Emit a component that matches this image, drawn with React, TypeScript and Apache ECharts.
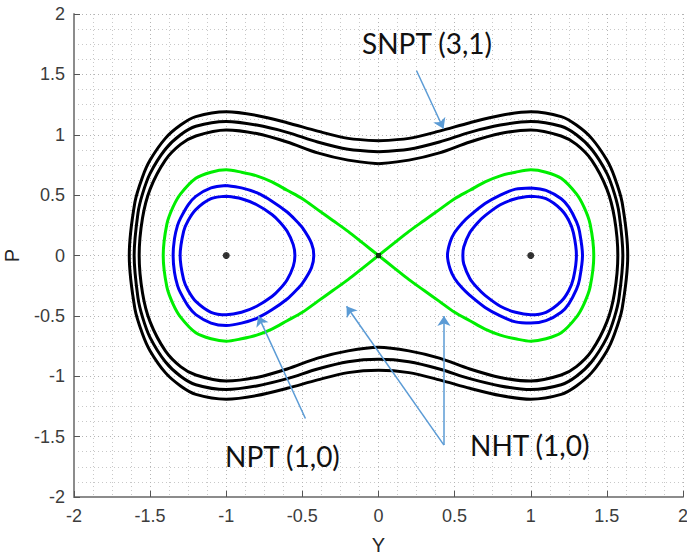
import React, { useEffect, useRef } from "react";
import * as echarts from "echarts";

type Pt = [number, number];

// Axis ticks (Y horizontal, P vertical)
const X_TICKS = [-2, -1.5, -1, -0.5, 0, 0.5, 1, 1.5, 2];
const Y_TICKS = [-2, -1.5, -1, -0.5, 0, 0.5, 1, 1.5, 2];

// Outer trajectories (SNPT), traced clockwise from the top centre
const BLACK_OUTER: Pt[] = [
  [0, 0.95], [0.2, 0.97], [0.4, 1.03], [0.6, 1.1], [0.8, 1.16], [1.0, 1.19], [1.2, 1.15], [1.3, 1.08],
  [1.4, 0.97], [1.5, 0.79], [1.55, 0.65], [1.6, 0.44], [1.637, 0],
  [1.6, -0.44], [1.55, -0.65], [1.5, -0.79], [1.4, -0.97], [1.3, -1.08], [1.2, -1.15], [1.0, -1.19],
  [0.8, -1.16], [0.6, -1.1], [0.4, -1.03], [0.2, -0.97], [0, -0.95],
  [-0.2, -0.97], [-0.4, -1.03], [-0.6, -1.1], [-0.8, -1.16], [-1.0, -1.19], [-1.2, -1.15], [-1.3, -1.08],
  [-1.4, -0.97], [-1.5, -0.79], [-1.55, -0.65], [-1.6, -0.44], [-1.637, 0],
  [-1.6, 0.44], [-1.55, 0.65], [-1.5, 0.79], [-1.4, 0.97], [-1.3, 1.08], [-1.2, 1.15], [-1.0, 1.19],
  [-0.8, 1.16], [-0.6, 1.1], [-0.4, 1.03], [-0.2, 0.97], [0, 0.95],
];

const BLACK_MIDDLE: Pt[] = [
  [0, 0.86], [0.2, 0.88], [0.4, 0.94], [0.6, 1.02], [0.8, 1.08], [1.0, 1.11], [1.2, 1.07], [1.3, 1.0],
  [1.4, 0.88], [1.5, 0.68], [1.55, 0.51], [1.58, 0.35], [1.605, 0],
  [1.58, -0.35], [1.55, -0.51], [1.5, -0.68], [1.4, -0.88], [1.3, -1.0], [1.2, -1.07], [1.0, -1.11],
  [0.8, -1.08], [0.6, -1.02], [0.4, -0.94], [0.2, -0.88], [0, -0.86],
  [-0.2, -0.88], [-0.4, -0.94], [-0.6, -1.02], [-0.8, -1.08], [-1.0, -1.11], [-1.2, -1.07], [-1.3, -1.0],
  [-1.4, -0.88], [-1.5, -0.68], [-1.55, -0.51], [-1.58, -0.35], [-1.605, 0],
  [-1.58, 0.35], [-1.55, 0.51], [-1.5, 0.68], [-1.4, 0.88], [-1.3, 1.0], [-1.2, 1.07], [-1.0, 1.11],
  [-0.8, 1.08], [-0.6, 1.02], [-0.4, 0.94], [-0.2, 0.88], [0, 0.86],
];

const BLACK_INNER: Pt[] = [
  [0, 0.76], [0.2, 0.79], [0.4, 0.85], [0.6, 0.94], [0.8, 1.01], [1.0, 1.04], [1.2, 0.99], [1.3, 0.92],
  [1.4, 0.79], [1.5, 0.55], [1.55, 0.31], [1.572, 0],
  [1.55, -0.31], [1.5, -0.55], [1.4, -0.79], [1.3, -0.92], [1.2, -0.99], [1.0, -1.04],
  [0.8, -1.01], [0.6, -0.94], [0.4, -0.85], [0.2, -0.79], [0, -0.76],
  [-0.2, -0.79], [-0.4, -0.85], [-0.6, -0.94], [-0.8, -1.01], [-1.0, -1.04], [-1.2, -0.99], [-1.3, -0.92],
  [-1.4, -0.79], [-1.5, -0.55], [-1.55, -0.31], [-1.572, 0],
  [-1.55, 0.31], [-1.5, 0.55], [-1.4, 0.79], [-1.3, 0.92], [-1.2, 0.99], [-1.0, 1.04],
  [-0.8, 1.01], [-0.6, 0.94], [-0.4, 0.85], [-0.2, 0.79], [0, 0.76],
];

// Separatrix (NHT) through the saddle at the origin
const SEPARATRIX: Pt[] = [
  [0, 0], [0.1, 0.1], [0.2, 0.2], [0.3, 0.29], [0.4, 0.38], [0.5, 0.47], [0.6, 0.54], [0.7, 0.61],
  [0.8, 0.66], [0.9, 0.69], [1.0, 0.71], [1.1, 0.69], [1.2, 0.64], [1.3, 0.51], [1.35, 0.4], [1.39, 0.26],
  [1.414, 0],
  [1.39, -0.26], [1.35, -0.4], [1.3, -0.51], [1.2, -0.64], [1.1, -0.69], [1.0, -0.71], [0.9, -0.69],
  [0.8, -0.66], [0.7, -0.61], [0.6, -0.54], [0.5, -0.47], [0.4, -0.38], [0.3, -0.29], [0.2, -0.2],
  [0.1, -0.1], [0, 0],
  [-0.1, 0.1], [-0.2, 0.2], [-0.3, 0.29], [-0.4, 0.38], [-0.5, 0.47], [-0.6, 0.54], [-0.7, 0.61],
  [-0.8, 0.66], [-0.9, 0.69], [-1.0, 0.71], [-1.1, 0.69], [-1.2, 0.64], [-1.3, 0.51], [-1.35, 0.4],
  [-1.39, 0.26], [-1.414, 0],
  [-1.39, -0.26], [-1.35, -0.4], [-1.3, -0.51], [-1.2, -0.64], [-1.1, -0.69], [-1.0, -0.71], [-0.9, -0.69],
  [-0.8, -0.66], [-0.7, -0.61], [-0.6, -0.54], [-0.5, -0.47], [-0.4, -0.38], [-0.3, -0.29], [-0.2, -0.2],
  [-0.1, -0.1], [0, 0],
];

// Periodic orbits (NPT) around the centres
const BLUE_RIGHT_OUTER: Pt[] = [
  [1.0, 0.56], [1.1, 0.54], [1.2, 0.47], [1.25, 0.4], [1.3, 0.28], [1.32, 0.2], [1.34, 0],
  [1.32, -0.2], [1.3, -0.28], [1.25, -0.4], [1.2, -0.47], [1.1, -0.54], [1.0, -0.56],
  [0.9, -0.55], [0.8, -0.5], [0.7, -0.43], [0.6, -0.33], [0.55, -0.27], [0.5, -0.19], [0.47, -0.11], [0.453, 0],
  [0.47, 0.11], [0.5, 0.19], [0.55, 0.27], [0.6, 0.33], [0.7, 0.43], [0.8, 0.5], [0.9, 0.55], [1.0, 0.56],
];

const BLUE_RIGHT_INNER: Pt[] = [
  [1.0, 0.49], [1.1, 0.47], [1.2, 0.38], [1.25, 0.29], [1.28, 0.19], [1.3, 0],
  [1.28, -0.19], [1.25, -0.29], [1.2, -0.38], [1.1, -0.47], [1.0, -0.49],
  [0.9, -0.47], [0.8, -0.42], [0.7, -0.33], [0.65, -0.27], [0.6, -0.19], [0.56, -0.07], [0.554, 0],
  [0.56, 0.07], [0.6, 0.19], [0.65, 0.27], [0.7, 0.33], [0.8, 0.42], [0.9, 0.47], [1.0, 0.49],
];

const BLUE_LEFT_OUTER: Pt[] = [
  [-1.0, 0.58], [-0.9, 0.56], [-0.8, 0.52], [-0.7, 0.45], [-0.6, 0.36], [-0.55, 0.3], [-0.5, 0.23],
  [-0.44, 0.1], [-0.425, 0],
  [-0.44, -0.1], [-0.5, -0.23], [-0.55, -0.3], [-0.6, -0.36], [-0.7, -0.45], [-0.8, -0.52], [-0.9, -0.56],
  [-1.0, -0.58],
  [-1.1, -0.56], [-1.2, -0.49], [-1.25, -0.42], [-1.3, -0.31], [-1.32, -0.25], [-1.34, -0.14], [-1.349, 0],
  [-1.34, 0.14], [-1.32, 0.25], [-1.3, 0.31], [-1.25, 0.42], [-1.2, 0.49], [-1.1, 0.56], [-1.0, 0.58],
];

const BLUE_LEFT_INNER: Pt[] = [
  [-1.0, 0.49], [-0.9, 0.47], [-0.8, 0.42], [-0.7, 0.34], [-0.65, 0.28], [-0.6, 0.2], [-0.56, 0.09], [-0.549, 0],
  [-0.56, -0.09], [-0.6, -0.2], [-0.65, -0.28], [-0.7, -0.34], [-0.8, -0.42], [-0.9, -0.47], [-1.0, -0.49],
  [-1.1, -0.47], [-1.2, -0.38], [-1.25, -0.29], [-1.28, -0.2], [-1.303, 0],
  [-1.28, 0.2], [-1.25, 0.29], [-1.2, 0.38], [-1.1, 0.47], [-1.0, 0.49],
];

// Equilibria
const CENTERS: Pt[] = [[-1, 0], [1, 0]];
const SADDLE: Pt[] = [[0, 0]];

// Annotation arrows: [tail, head]
const ARROW_SNPT: [Pt, Pt] = [[0.25, 1.53], [0.427, 1.05]];
const ARROW_NPT: [Pt, Pt] = [[-0.48, -1.35], [-0.79, -0.5]];
const ARROW_NHT_A: [Pt, Pt] = [[0.43, -1.57], [-0.21, -0.42]];
const ARROW_NHT_B: [Pt, Pt] = [[0.43, -1.57], [0.43, -0.5]];

const LABEL_SNPT = "SNPT (3,1)";
const LABEL_NPT = "NPT (1,0)";
const LABEL_NHT = "NHT (1,0)";

const W = 687;
const H = 557;

function curve(data: Pt[], color: string, width: number, z: number) {
  return {
    type: "line",
    data,
    showSymbol: false,
    symbol: "none",
    smooth: 0.3,
    clip: true,
    z,
    lineStyle: { color, width },
    emphasis: { disabled: true },
  };
}

export default function App() {
  const ref = useRef<HTMLDivElement>(null);

  useEffect(() => {
    if (!ref.current) return;
    const chart = echarts.init(ref.current, undefined, { renderer: "svg" });
    const axisLabel = {
      fontFamily: "Liberation Sans",
      fontSize: 18,
      color: "#3c3c3c",
    };
    const splitLine = {
      show: true,
      lineStyle: { type: [1, 3], color: "#b4b4b4", width: 1 },
    };
    const minorSplitLine = {
      show: true,
      lineStyle: { type: [1, 3], color: "#c8c8c8", width: 1 },
    };
    const textFont = '28px Lato, "Open Sans", sans-serif';

    chart.setOption({
      animation: false,
      grid: { left: 74, right: 4, top: 14, bottom: 60, containLabel: false, outerBoundsMode: "none" },
      xAxis: {
        type: "value",
        min: X_TICKS[0],
        max: X_TICKS[X_TICKS.length - 1],
        interval: 0.5,
        name: "Y",
        nameLocation: "middle",
        nameGap: 38,
        nameTextStyle: { fontFamily: "Liberation Sans", fontSize: 20, color: "#262626" },
        axisLine: { show: true, onZero: false, lineStyle: { color: "#8c8c8c", width: 2 } },
        axisTick: { show: true, inside: true, length: 6, lineStyle: { color: "#555555", width: 1 } },
        axisLabel: { ...axisLabel, margin: 10 },
        splitLine,
        minorTick: { show: false, splitNumber: 4 },
        minorSplitLine,
      },
      yAxis: {
        type: "value",
        min: Y_TICKS[0],
        max: Y_TICKS[Y_TICKS.length - 1],
        interval: 0.5,
        name: "P",
        nameLocation: "middle",
        nameGap: 52,
        nameTextStyle: { fontFamily: "Liberation Sans", fontSize: 20, color: "#262626" },
        axisLine: { show: true, onZero: false, lineStyle: { color: "#8c8c8c", width: 2 } },
        axisTick: { show: true, inside: true, length: 6, lineStyle: { color: "#555555", width: 1 } },
        axisLabel: { ...axisLabel, margin: 9 },
        splitLine,
        minorTick: { show: false, splitNumber: 4 },
        minorSplitLine,
      },
      series: [
        curve(BLACK_OUTER, "#000000", 3, 2),
        curve(BLACK_MIDDLE, "#000000", 3, 2),
        curve(BLACK_INNER, "#000000", 3, 2),
        curve(SEPARATRIX, "#00ee00", 3, 3),
        curve(BLUE_RIGHT_OUTER, "#0000f0", 3, 4),
        curve(BLUE_RIGHT_INNER, "#0000f0", 3, 4),
        curve(BLUE_LEFT_OUTER, "#0000f0", 3, 4),
        curve(BLUE_LEFT_INNER, "#0000f0", 3, 4),
        {
          type: "scatter",
          data: CENTERS,
          symbol: "circle",
          symbolSize: 7,
          itemStyle: { color: "#000000" },
          z: 5,
          emphasis: { disabled: true },
        },
        {
          type: "scatter",
          data: SADDLE,
          symbol: "rect",
          symbolSize: 5,
          itemStyle: { color: "#111111" },
          z: 5,
          emphasis: { disabled: true },
        },
        {
          type: "lines",
          coordinateSystem: "cartesian2d",
          symbol: ["none", "arrow"],
          symbolSize: 10,
          z: 6,
          lineStyle: { color: "#5b9bd5", width: 1.5, opacity: 1, curveness: 0 },
          emphasis: { disabled: true },
          data: [ARROW_SNPT, ARROW_NPT, ARROW_NHT_A, ARROW_NHT_B].map((c) => ({ coords: c })),
        },
      ],
      graphic: [
        {
          type: "text",
          left: 362,
          top: 29,
          z: 10,
          style: { text: LABEL_SNPT, font: textFont, fill: "#111111" },
        },
        {
          type: "text",
          left: 225,
          top: 442,
          z: 10,
          style: { text: LABEL_NPT, font: textFont, fill: "#111111" },
        },
        {
          type: "text",
          left: 470,
          top: 431,
          z: 10,
          style: { text: LABEL_NHT, font: textFont, fill: "#111111" },
        },
      ],
    });
    return () => chart.dispose();
  }, []);

  return (
    <div
      ref={ref}
      style={{ position: "fixed", left: 0, top: 0, width: W, height: H, background: "#ffffff" }}
    />
  );
}
